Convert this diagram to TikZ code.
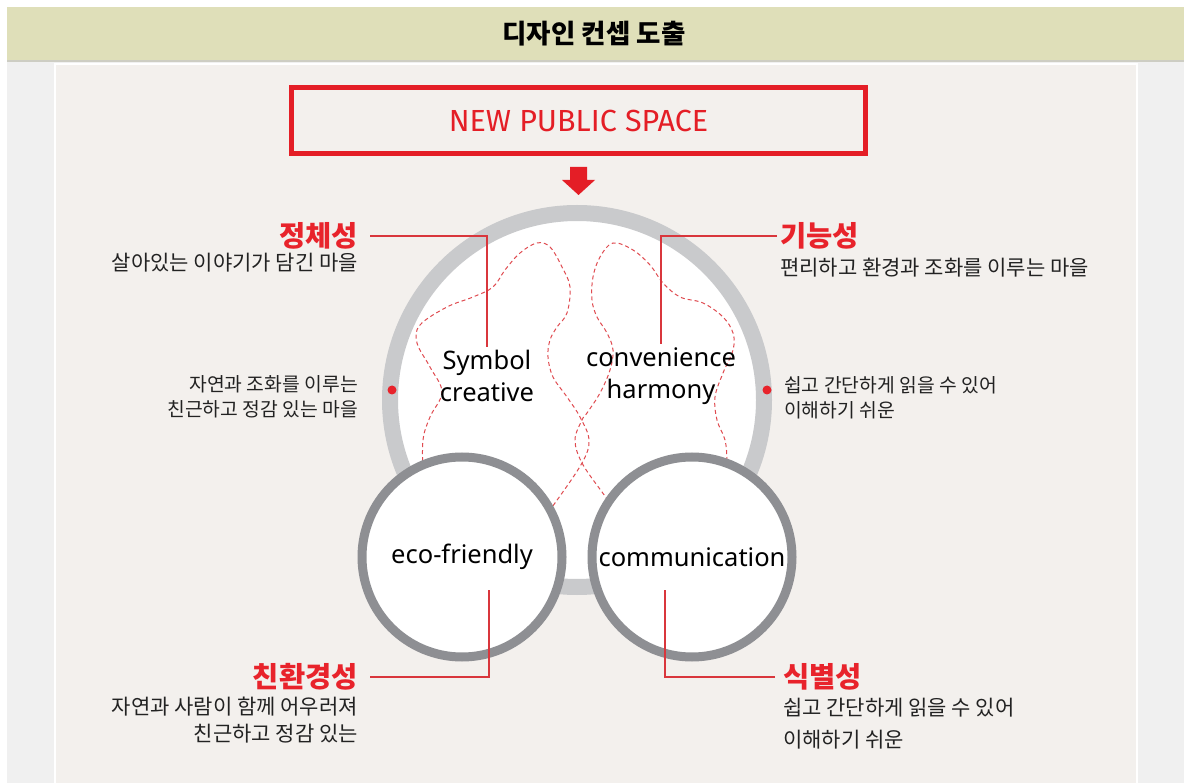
\documentclass[tikz,border=0pt]{standalone}
\usepackage{fontspec}
\setmainfont{Noto Sans}
\newfontfamily\krfont{Noto Sans CJK KR}
\newfontfamily\dinfont{Fira Sans}
\definecolor{hdr}{HTML}{DFDFB9}
\definecolor{hdrline}{HTML}{CDCDC3}
\definecolor{outerbg}{HTML}{F0F0F0}
\definecolor{panelbg}{HTML}{F3F0ED}
\definecolor{boxred}{HTML}{E41E26}
\definecolor{labred}{HTML}{E8232B}
\definecolor{conred}{HTML}{D9363C}
\definecolor{dashred}{HTML}{E04B50}
\definecolor{ringlight}{HTML}{C9CACC}
\definecolor{ringdark}{HTML}{8E8F93}
\definecolor{bodytxt}{HTML}{222222}
\begin{document}
\begin{tikzpicture}[x=1pt,y=-1pt,
  redlab/.style={inner sep=0pt, text=labred, font=\krfont\bfseries\fontsize{28.5}{30}\selectfont},
  bodyA/.style={inner sep=0pt, text=bodytxt, font=\krfont\fontsize{21}{27}\selectfont},
  bodyB/.style={inner sep=0pt, text=bodytxt, font=\krfont\fontsize{19.3}{24.5}\selectfont},
  entxt/.style={inner sep=0pt, text=black, font=\fontsize{25.5}{32}\selectfont},
  conn/.style={draw=conred, line width=1.3pt},
  dashcurve/.style={draw=dashred, line width=1pt, dash pattern=on 4pt off 3pt, smooth, tension=0.6},
  reddot/.style={circle, fill=labred, inner sep=0pt, minimum size=9pt},
  smallring/.style={circle, draw=ringdark, line width=9pt, fill=white, minimum size=200pt, inner sep=0pt, entxt}
]
\useasboundingbox (0,0) rectangle (1184,783);
% backgrounds
\fill[white] (0,0) rectangle (1184,783);
\fill[outerbg] (7,7) rectangle (1184,783);
\fill[hdr] (7,7) rectangle (1184,60);
\fill[hdrline] (7,60) rectangle (1184,62);
\fill[white] (54,63) rectangle (1138,783);
\fill[panelbg] (56,65) rectangle (1136,783);
% title
\node[inner sep=0pt, font=\krfont\bfseries\fontsize{26.5}{30}\selectfont] (title) at (594,34) {디자인 컨셉 도출};
% top box
\node[draw=boxred, line width=5pt, minimum width=574pt, minimum height=66pt, inner sep=0pt,
      text=boxred, font=\dinfont\fontsize{30.5}{34}\selectfont] (nps) at (578.5,120.5) {NEW PUBLIC SPACE};
\fill[boxred] (570,167) -- (587,167) -- (587,180) -- (595,180) -- (578.5,195) -- (562,180) -- (570,180) -- cycle;
% big circle
\node[circle, draw=ringlight, line width=16pt, fill=white, minimum size=374pt, inner sep=0pt] (big) at (577,400) {};
% dashed blobs
\draw[dashcurve] plot coordinates {(423,475) (423,440) (430,417) (442,392) (430,367) (417,343) (420,325) (447,307) (473,297) (493,287) (505,270) (520,253) (537,243) (550,247) (562,267) (570,287) (567,313) (557,327) (550,340) (548,357) (553,377) (567,397) (580,417) (589,440) (582,463) (555,503) (545,515)};
\draw[dashcurve] plot coordinates {(727,475) (727,460) (725,440) (717,420) (715,397) (723,373) (733,350) (733,333) (723,317) (703,303) (680,297) (663,283) (650,265) (633,250) (613,243) (600,257) (593,277) (592,300) (597,317) (607,333) (613,350) (610,370) (600,393) (587,413) (582,420) (575,440) (582,463) (602,492) (612,505)};
% inner texts
\node[entxt, align=center] (sym) at (487,376) {Symbol\\creative};
\node[entxt, align=center] (conv) at (661,376) {convenience\\harmony};
% side dots
\node[reddot] (dotl) at (392,390) {};
\node[reddot] (dotr) at (767,390) {};
% top labels
\node[redlab, anchor=east] (jc) at (358,236) {정체성};
\node[bodyA, anchor=east] (jcd) at (358,263) {살아있는 이야기가 담긴 마을};
\node[redlab, anchor=west] (gn) at (780,236) {기능성};
\node[bodyA, anchor=west] (gnd) at (780,268) {편리하고 환경과 조화를 이루는 마을};
% middle side texts
\node[bodyB, anchor=east, align=right] (midl) at (358,397) {자연과 조화를 이루는\\친근하고 정감 있는 마을};
\node[bodyB, anchor=west, align=left] (midr) at (784,398) {쉽고 간단하게 읽을 수 있어\\이해하기 쉬운};
% connectors top
\draw[conn] ([xshift=12pt]jc.east) -| ([yshift=3pt]sym.north);
\draw[conn] ([xshift=-3pt]gn.west) -| ([yshift=3pt]conv.north);
% small circles
\node[smallring] (eco) at (462,557) {eco-friendly};
\node[smallring] (com) at (692,557) {communication};
% bottom labels
\node[redlab, anchor=east] (hk) at (358,677) {친환경성};
\node[bodyA, anchor=east, align=right] (hkd) at (358,720) {자연과 사람이 함께 어우러져\\친근하고 정감 있는};
\node[redlab, anchor=west] (sb) at (783,677) {식별성};
\node[bodyA, anchor=west, align=left] (sbd) at (783,724) {쉽고 간단하게 읽을 수 있어\\[5pt]이해하기 쉬운};
% connectors bottom
\coordinate (ecoend) at (489,590);
\coordinate (comend) at (665,590);
\draw[conn] ([xshift=12pt]hk.east) -| (ecoend);
\draw[conn] ([xshift=-8pt]sb.west) -| (comend);
\end{tikzpicture}
\end{document}
